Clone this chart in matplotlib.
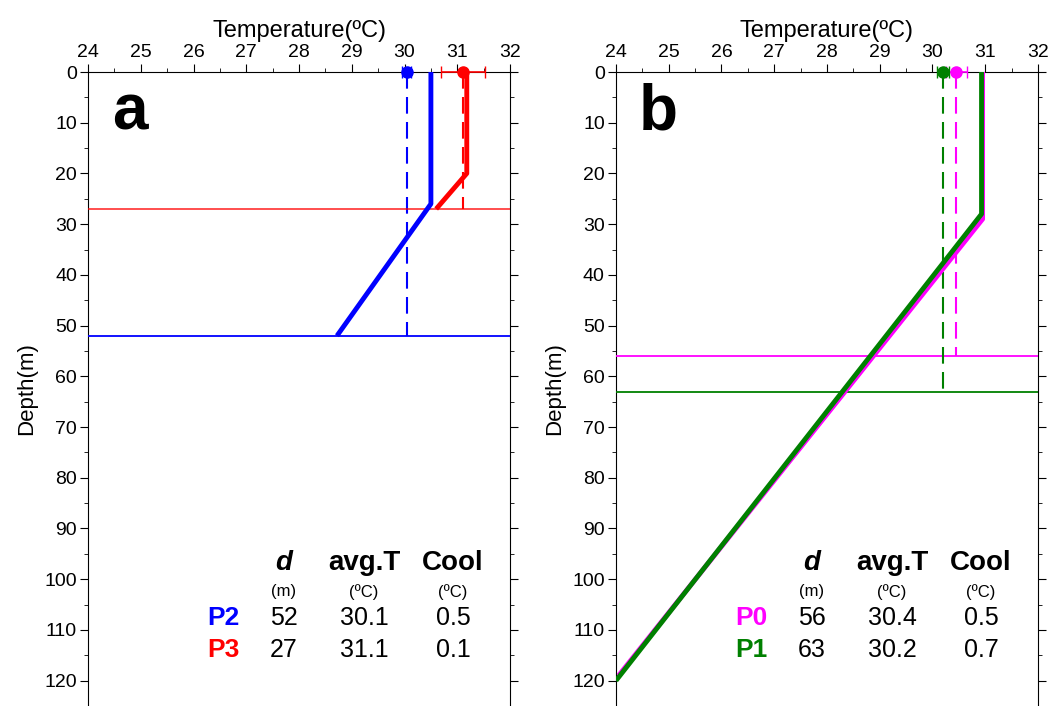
import matplotlib
matplotlib.use("Agg")
import matplotlib.pyplot as plt
from matplotlib.ticker import MultipleLocator

plt.rcParams['font.family'] = ['Liberation Sans', 'DejaVu Sans']

# profiles (temperature, depth)
p2_temp = [30.5, 30.5, 28.72]
p2_depth = [0, 26, 52]
p3_temp = [31.18, 31.18, 30.6]
p3_depth = [0, 20, 27]
p0_temp = [30.95, 30.95, 24.05]
p0_depth = [0, 29, 119]
p1_temp = [30.93, 30.93, 24.0]
p1_depth = [0, 28, 120]

# mixed layer depth, mean temperature and its spread
names_a = ["P2", "P3"]
names_b = ["P0", "P1"]
colors_a = ["blue", "red"]
colors_b = ["#ff00ff", "green"]
depth_a = [52, 27]
depth_b = [56, 63]
mean_a = [30.04, 31.11]
mean_b = [30.45, 30.2]
spread_a = [0.09, 0.41]
spread_b = [0.2, 0.11]
avg_txt_a = ["30.1", "31.1"]
avg_txt_b = ["30.4", "30.2"]
cool_a = ["0.5", "0.1"]
cool_b = ["0.5", "0.7"]

fig = plt.figure(figsize=(10.54, 7.06), dpi=100)
ax_a = fig.add_axes([0.0835, 0.0, 0.4004, 0.898])
ax_b = fig.add_axes([0.5844, 0.0, 0.4004, 0.898])


def setup_axis(ax, letter):
    ax.set_xlim(24, 32)
    ax.set_ylim(125, 0)
    ax.xaxis.tick_top()
    ax.xaxis.set_label_position("top")
    ax.xaxis.set_major_locator(MultipleLocator(1))
    ax.xaxis.set_minor_locator(MultipleLocator(0.5))
    ax.yaxis.set_major_locator(MultipleLocator(10))
    ax.yaxis.set_minor_locator(MultipleLocator(5))
    ax.tick_params(axis="y", which="both", right=True, direction="out")
    ax.tick_params(which="major", length=6, labelsize=14, pad=2)
    ax.tick_params(which="minor", length=3)
    ax.spines["bottom"].set_visible(False)
    ax.set_xlabel("Temperature(ºC)", fontsize=17, labelpad=5)
    ax.set_ylabel("Depth(m)", fontsize=16, labelpad=5)
    ax.text(24.8, 8, letter, fontsize=46, fontweight="bold", ha="center", va="center")


def draw_panel(ax, profiles, colors, depths, means, spreads, names, avg_txt, cool_txt):
    for (temp, dep), c in zip(profiles, colors):
        ax.plot(temp, dep, color=c, lw=3.5, solid_capstyle="butt", zorder=4)
    for c, d, m, s in zip(colors, depths, means, spreads):
        ax.axhline(d, color=c, lw=1.3, alpha=0.75 if c == "red" else 1.0, zorder=3)
        ax.plot([m, m], [0, d], color=c, lw=1.5, dashes=(8, 4), zorder=3)
        ax.errorbar(m, 0, xerr=s, fmt="o", color=c, ms=8, lw=1.2, capsize=4,
                    clip_on=False, zorder=6)
    # table of values
    xs = [0.321, 0.464, 0.654, 0.865]
    ax.text(xs[1], 0.2256, "d", transform=ax.transAxes, fontsize=20, fontweight="bold",
            style="italic", ha="center", va="center")
    ax.text(xs[2], 0.2256, "avg.T", transform=ax.transAxes, fontsize=20, fontweight="bold",
            ha="center", va="center")
    ax.text(xs[3], 0.2256, "Cool", transform=ax.transAxes, fontsize=20, fontweight="bold",
            ha="center", va="center")
    for x, unit in zip(xs[1:], ["(m)", "(ºC)", "(ºC)"]):
        ax.text(x, 0.180, unit, transform=ax.transAxes, fontsize=12, ha="center", va="center")
    for row_y, n, c, d, a, cl in zip([0.139, 0.088], names, colors, depths, avg_txt, cool_txt):
        ax.text(xs[0], row_y, n, transform=ax.transAxes, fontsize=19, fontweight="bold",
                color=c, ha="center", va="center")
        ax.text(xs[1], row_y, str(d), transform=ax.transAxes, fontsize=18, ha="center", va="center")
        ax.text(xs[2], row_y, a, transform=ax.transAxes, fontsize=18, ha="center", va="center")
        ax.text(xs[3], row_y, cl, transform=ax.transAxes, fontsize=18, ha="center", va="center")


setup_axis(ax_a, "a")
setup_axis(ax_b, "b")
draw_panel(ax_a, [(p2_temp, p2_depth), (p3_temp, p3_depth)], colors_a, depth_a,
           mean_a, spread_a, names_a, avg_txt_a, cool_a)
draw_panel(ax_b, [(p0_temp, p0_depth), (p1_temp, p1_depth)], colors_b, depth_b,
           mean_b, spread_b, names_b, avg_txt_b, cool_b)

fig.savefig("out.png", dpi=100)
